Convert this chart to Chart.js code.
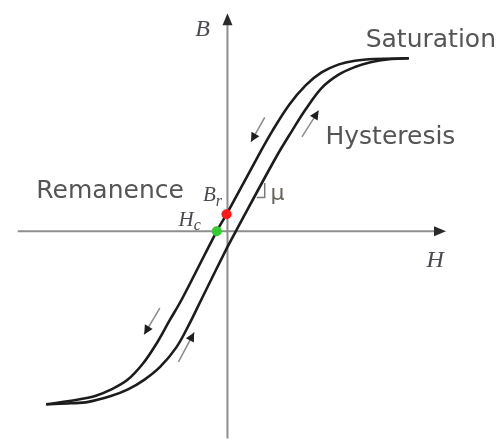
<!DOCTYPE html>
<html>
<head>
<meta charset="utf-8">
<script src="https://cdn.jsdelivr.net/npm/chart.js@4.4.1/dist/chart.umd.min.js"></script>
<style>
  html, body { margin: 0; padding: 0; background: #fff; }
  #wrap { width: 501px; height: 444px; }
</style>
</head>
<body>
<div id="wrap"><canvas id="chartHysteresis" width="501" height="444"></canvas></div>
<script>
// descending branch (upper / left curve), field H vs flux density B
const upperH = [-185, -152, -135, -119, -102, -86, -72.5, -59.5, -46, -11, 0, 31, 46, 63, 80, 96, 113, 130, 150, 185];
const upperB = [-177, -172, -168.5, -162, -152, -135, -115, -92, -68.5, 0, 19, 76.5, 103, 129.5, 149.5, 162.5, 170.5, 174.5, 176.3, 177];

// ascending branch (lower / right curve)
const lowerH = [-185, -160, -142, -119, -102, -85, -68.5, -52, -39, -26, 0, 8.5, 50, 66, 80, 96, 113, 130, 146, 165, 185];
const lowerB = [-177, -176, -174.5, -168.5, -162, -152, -138.5, -118.5, -95, -68.5, -16, 0, 76.5, 103, 125, 146.5, 160, 168, 173, 176, 177];

// remanence (B axis crossing) and coercivity (H axis crossing)
const markerH = [-1, -11];
const markerB = [17.5, 0];
const markerColors = ['#ff1a1a', '#33cc33'];

const labelTexts = ['Saturation', 'Hysteresis', 'Remanence'];

const toPoints = (hs, bs) => hs.map((h, i) => ({ x: h, y: bs[i] }));

function drawHead(ctx, tx, ty, fx, fy, len, half, color) {
  const a = Math.atan2(ty - fy, tx - fx);
  ctx.save();
  ctx.fillStyle = color;
  ctx.translate(tx, ty);
  ctx.rotate(a);
  ctx.beginPath();
  ctx.moveTo(0, 0);
  ctx.lineTo(-len, -half);
  ctx.lineTo(-len, half);
  ctx.closePath();
  ctx.fill();
  ctx.restore();
}

const axesPlugin = {
  id: 'axesPlugin',
  beforeDatasetsDraw(chart) {
    const { ctx, scales: { x, y } } = chart;
    const ox = x.getPixelForValue(0);
    const oy = y.getPixelForValue(0);
    ctx.save();
    ctx.strokeStyle = '#8e8e8e';
    ctx.lineWidth = 2;
    ctx.beginPath();
    ctx.moveTo(x.getPixelForValue(-214), oy);
    ctx.lineTo(x.getPixelForValue(214), oy);
    ctx.moveTo(ox, y.getPixelForValue(-212));
    ctx.lineTo(ox, y.getPixelForValue(213));
    ctx.stroke();
    drawHead(ctx, x.getPixelForValue(223), oy, ox, oy, 12, 5, '#2a2a2a');
    drawHead(ctx, ox, y.getPixelForValue(223), ox, oy, 12, 5, '#2a2a2a');
    ctx.restore();
  },
  afterDatasetsDraw(chart) {
    const { ctx, scales: { x, y } } = chart;
    const px = (h) => x.getPixelForValue(h);
    const py = (b) => y.getPixelForValue(b);

    // direction arrows along the loop
    const arrows = [
      [38, 116.5, 24, 91.5],
      [76, 96.5, 93, 123.5],
      [-69, -78.5, -85, -105.5],
      [-50, -133.5, -34, -103.5],
    ];
    ctx.save();
    arrows.forEach(([h0, b0, h1, b1]) => {
      ctx.strokeStyle = '#8a8a8a';
      ctx.lineWidth = 1.5;
      ctx.beginPath();
      ctx.moveTo(px(h0), py(b0));
      ctx.lineTo(px(h1), py(b1));
      ctx.stroke();
      drawHead(ctx, px(h1), py(b1), px(h0), py(b0), 9, 4.5, '#1e1e1e');
    });

    // slope mark
    ctx.strokeStyle = '#7a7a7a';
    ctx.lineWidth = 1.5;
    ctx.beginPath();
    ctx.moveTo(px(38), py(49.5));
    ctx.lineTo(px(38), py(34.5));
    ctx.lineTo(px(30), py(34.5));
    ctx.stroke();

    // text labels
    ctx.fillStyle = '#555555';
    ctx.textBaseline = 'alphabetic';
    ctx.font = '25px "DejaVu Sans"';
    ctx.fillText(labelTexts[0], px(141), py(188.5));
    ctx.fillText(labelTexts[1], px(100), py(89.5));
    ctx.fillText(labelTexts[2], px(-195), py(34.5));

    ctx.fillStyle = '#4a4a52';
    ctx.font = 'italic 24px "Liberation Serif"';
    ctx.fillText('B', px(-33), py(199.5));
    ctx.fillText('H', px(203), py(-36.5));

    ctx.font = 'italic 21px "Liberation Serif"';
    ctx.fillText('B', px(-25), py(30.5));
    const bw = ctx.measureText('B').width;
    ctx.fillText('H', px(-50), py(5.5));
    const hw = ctx.measureText('H').width;
    ctx.font = 'italic 16px "Liberation Serif"';
    ctx.fillText('r', px(-25) + bw, py(26));
    ctx.fillText('c', px(-50) + hw, py(1));

    ctx.fillStyle = '#6a645c';
    ctx.font = '22px "DejaVu Sans"';
    ctx.fillText('\u03bc', px(44), py(31.5));
    ctx.restore();
  },
};

new Chart(document.getElementById('chartHysteresis').getContext('2d'), {
  type: 'scatter',
  data: {
    datasets: [
      {
        label: 'Markers',
        data: toPoints(markerH, markerB),
        backgroundColor: markerColors,
        borderWidth: 0,
        pointRadius: 5,
        showLine: false,
        order: 0,
      },
      {
        label: 'Descending',
        data: toPoints(upperH, upperB),
        showLine: true,
        borderColor: '#1c1c1c',
        borderWidth: 2.6,
        pointRadius: 0,
        tension: 0.35,
        order: 1,
      },
      {
        label: 'Ascending',
        data: toPoints(lowerH, lowerB),
        showLine: true,
        borderColor: '#1c1c1c',
        borderWidth: 2.6,
        pointRadius: 0,
        tension: 0.35,
        order: 1,
      },
    ],
  },
  options: {
    responsive: false,
    animation: false,
    layout: { padding: 0 },
    plugins: {
      legend: { display: false },
      tooltip: { enabled: false },
    },
    scales: {
      x: { type: 'linear', min: -227, max: 274, display: false },
      y: { type: 'linear', min: -212.5, max: 231.5, display: false },
    },
  },
  plugins: [axesPlugin],
});
</script>
</body>
</html>
